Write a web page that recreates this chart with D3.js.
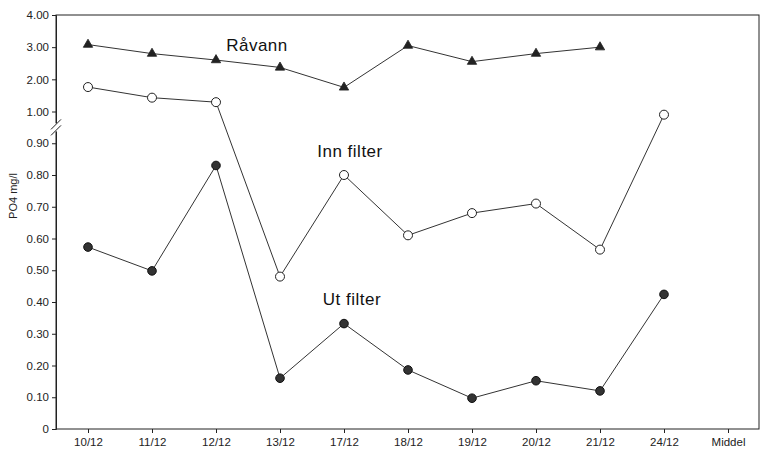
<!DOCTYPE html>
<html><head><meta charset="utf-8">
<script src="https://cdn.jsdelivr.net/npm/d3@7"></script>
<style>body{margin:0;background:#fff}svg{display:block;font-family:"Liberation Sans",Arial,sans-serif}</style>
</head><body>
<svg id="c" width="761" height="455"></svg>
<script>
const categories = ["10/12","11/12","12/12","13/12","17/12","18/12","19/12","20/12","21/12","24/12","Middel"];
const ravann = [3.08,2.80,2.60,2.37,1.75,3.05,2.55,2.80,3.00,null,null];
const innFilter = [1.76,1.43,1.29,0.48,0.80,0.61,0.68,0.71,0.565,0.99,null];
const utFilter = [0.573,0.498,0.83,0.16,0.332,0.186,0.097,0.152,0.12,0.424,null];
const yTicks = [0,0.1,0.2,0.3,0.4,0.5,0.6,0.7,0.8,0.9,1,2,3,4];
const yTickLabels = ["0","0.10","0.20","0.30","0.40","0.50","0.60","0.70","0.80","0.90","1.00","2.00","3.00","4.00"];
const yLabel = "PO4 mg/l";

const svg = d3.select("#c");
const L = 56, R = 760, T = 15, B = 429;
const x = d3.scalePoint().domain(categories).range([L, R]).padding(0.5);
// broken axis: 0..1 on lower part, 1..4 compressed on upper part
const y = d3.scaleLinear().domain([0, 1, 4]).range([B, 111.5, T]);

// frame
svg.append("rect").attr("x", L).attr("y", T).attr("width", R - 1 - L).attr("height", B - T)
  .attr("fill", "none").attr("stroke", "#222").attr("stroke-width", 1);

// y axis
const ya = svg.append("g").attr("transform", `translate(${L},0)`)
  .call(d3.axisLeft(y).tickValues(yTicks).tickFormat((d,i) => yTickLabels[i]).tickSize(4).tickPadding(3));
ya.select(".domain").attr("stroke", "#222");
ya.selectAll(".tick line").attr("stroke", "#222");
ya.selectAll("text").attr("font-size", 11.5).attr("fill", "#222").attr("font-family", "Liberation Sans, Arial, sans-serif");

// x axis
const xa = svg.append("g").attr("transform", `translate(0,${B})`)
  .call(d3.axisBottom(x).tickSize(4).tickPadding(5));
xa.select(".domain").remove();
xa.selectAll(".tick line").attr("stroke", "#222");
xa.selectAll("text").attr("font-size", 11.5).attr("fill", "#222").attr("font-family", "Liberation Sans, Arial, sans-serif");

// break marks on y axis
const by = (y(0.9) + y(1)) / 2;
svg.append("rect").attr("x", L - 2).attr("y", by - 4).attr("width", 4).attr("height", 8).attr("fill", "#fff");
[-3, 3].forEach(o => {
  svg.append("line").attr("x1", L - 5).attr("y1", by + o + 5).attr("x2", L + 5).attr("y2", by + o - 5)
    .attr("stroke", "#222").attr("stroke-width", 1);
});

// y label
svg.append("text").attr("transform", `translate(17,196) rotate(-90)`).attr("text-anchor", "middle")
  .attr("font-size", 11).attr("fill", "#222").text(yLabel);

const line = d3.line().defined(d => d[1] != null).x(d => x(d[0])).y(d => y(d[1]));
function series(vals) { return categories.map((c, i) => [c, vals[i]]); }

[ravann, innFilter, utFilter].forEach(v => {
  svg.append("path").datum(series(v)).attr("d", line).attr("fill", "none")
    .attr("stroke", "#333").attr("stroke-width", 1);
});

// markers
const tri = d3.symbol().type(d3.symbolTriangle).size(38);
svg.selectAll(".tri").data(series(ravann).filter(d => d[1] != null)).enter().append("path")
  .attr("d", tri).attr("transform", d => `translate(${x(d[0])},${y(d[1])})`)
  .attr("fill", "#222").attr("stroke", "#222").attr("stroke-width", 0.8);
svg.selectAll(".oc").data(series(innFilter).filter(d => d[1] != null)).enter().append("circle")
  .attr("cx", d => x(d[0])).attr("cy", d => y(d[1])).attr("r", 4.5)
  .attr("fill", "#fff").attr("stroke", "#222").attr("stroke-width", 1);
svg.selectAll(".fc").data(series(utFilter).filter(d => d[1] != null)).enter().append("circle")
  .attr("cx", d => x(d[0])).attr("cy", d => y(d[1])).attr("r", 4.3)
  .attr("fill", "#333").attr("stroke", "#111").attr("stroke-width", 1);

// series labels
const lab = [["Råvann", 257, 51], ["Inn filter", 350, 157], ["Ut filter", 352, 305]];
lab.forEach(([t, lx, ly]) => svg.append("text").attr("x", lx).attr("y", ly).attr("text-anchor", "middle")
  .attr("font-size", 17).attr("fill", "#111").attr("letter-spacing", 0.5).text(t));
</script>
</body></html>
